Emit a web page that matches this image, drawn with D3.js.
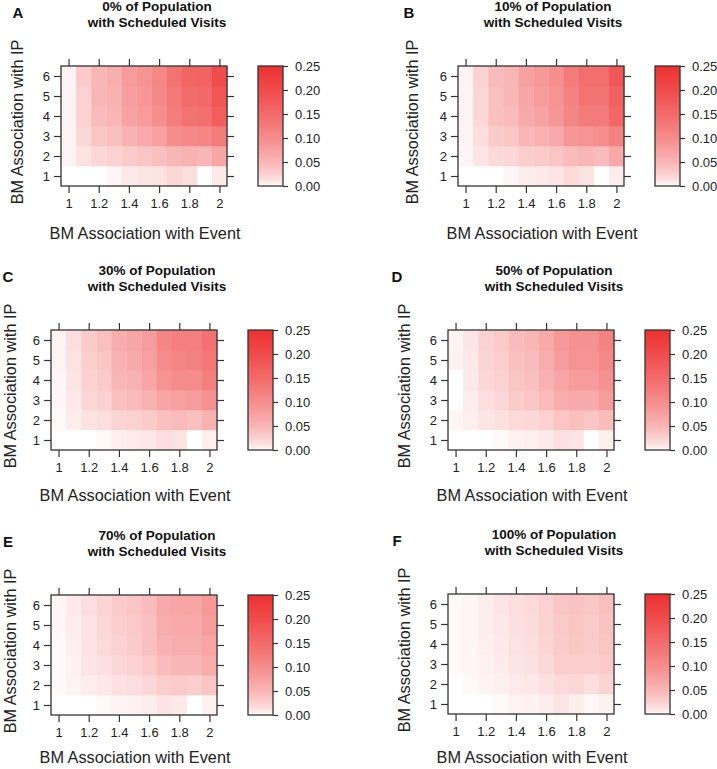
<!DOCTYPE html>
<html>
<head>
<meta charset="utf-8">
<script src="https://cdn.jsdelivr.net/npm/d3@7"></script>
<style>
  html, body { margin: 0; padding: 0; background: #fff; }
  svg { display: block; font-family: "Liberation Sans", Arial, Helvetica, sans-serif; }
</style>
</head>
<body>
<svg id="chart" width="717" height="769"></svg>
<script>
// ---------- data ----------
const xValues = [1.0, 1.1, 1.2, 1.3, 1.4, 1.5, 1.6, 1.7, 1.8, 1.9, 2.0];
const yValues = [1, 2, 3, 4, 5, 6];
const xTickValues = [1, 1.2, 1.4, 1.6, 1.8, 2];
const xTickLabels = ["1", "1.2", "1.4", "1.6", "1.8", "2"];
const yTickValues = [1, 2, 3, 4, 5, 6];
const colorTicks = [0, 0.05, 0.10, 0.15, 0.20, 0.25];
const colorTickLabels = ["0.00", "0.05", "0.10", "0.15", "0.20", "0.25"];
const panelLetters = ["A", "B", "C", "D", "E", "F"];
const panelTitles = ["0% of Population", "10% of Population", "30% of Population",
                     "50% of Population", "70% of Population", "100% of Population"];
const titleLine2 = "with Scheduled Visits";
const xAxisTitle = "BM Association with Event";
const yAxisTitle = "BM Association with IP";

// rows ordered y = 1 .. 6, columns x = 1.0 .. 2.0
const vals0 = [
  [0.000, 0.000, 0.000, 0.002, 0.008, 0.010, 0.012, 0.020, 0.015, 0.000, 0.008],
  [0.003, 0.012, 0.020, 0.025, 0.030, 0.035, 0.040, 0.050, 0.055, 0.050, 0.070],
  [0.003, 0.020, 0.035, 0.040, 0.055, 0.065, 0.075, 0.100, 0.105, 0.110, 0.125],
  [0.003, 0.025, 0.045, 0.050, 0.072, 0.082, 0.098, 0.122, 0.138, 0.142, 0.170],
  [0.003, 0.025, 0.050, 0.055, 0.078, 0.088, 0.105, 0.128, 0.148, 0.152, 0.185],
  [0.003, 0.030, 0.050, 0.058, 0.082, 0.092, 0.108, 0.138, 0.158, 0.162, 0.200]
];
const vals10 = [
  [0.000, 0.000, 0.000, 0.002, 0.006, 0.008, 0.010, 0.018, 0.012, 0.000, 0.006],
  [0.002, 0.010, 0.018, 0.020, 0.028, 0.030, 0.035, 0.045, 0.050, 0.045, 0.065],
  [0.003, 0.015, 0.030, 0.035, 0.050, 0.055, 0.065, 0.088, 0.092, 0.098, 0.115],
  [0.003, 0.020, 0.040, 0.045, 0.065, 0.072, 0.088, 0.110, 0.125, 0.125, 0.155],
  [0.003, 0.020, 0.040, 0.050, 0.070, 0.080, 0.092, 0.115, 0.135, 0.135, 0.165],
  [0.003, 0.025, 0.045, 0.050, 0.075, 0.085, 0.098, 0.125, 0.145, 0.145, 0.182]
];
const vals30 = [
  [0.000, 0.000, 0.000, 0.001, 0.005, 0.007, 0.009, 0.015, 0.012, 0.000, 0.005],
  [0.001, 0.006, 0.012, 0.015, 0.022, 0.025, 0.030, 0.040, 0.045, 0.040, 0.055],
  [0.002, 0.008, 0.020, 0.025, 0.040, 0.045, 0.055, 0.070, 0.075, 0.080, 0.095],
  [0.002, 0.010, 0.025, 0.030, 0.050, 0.055, 0.070, 0.090, 0.100, 0.100, 0.120],
  [0.003, 0.012, 0.028, 0.035, 0.055, 0.065, 0.075, 0.100, 0.110, 0.115, 0.130],
  [0.003, 0.015, 0.030, 0.040, 0.060, 0.070, 0.080, 0.110, 0.120, 0.120, 0.140]
];
const vals50 = [
  [0.000, 0.000, 0.000, 0.001, 0.004, 0.005, 0.008, 0.013, 0.010, 0.000, 0.005],
  [0.002, 0.005, 0.010, 0.013, 0.018, 0.020, 0.025, 0.035, 0.040, 0.035, 0.045],
  [0.000, 0.006, 0.015, 0.020, 0.030, 0.035, 0.045, 0.060, 0.065, 0.065, 0.080],
  [0.000, 0.008, 0.020, 0.025, 0.035, 0.040, 0.055, 0.070, 0.080, 0.080, 0.095],
  [0.004, 0.008, 0.022, 0.028, 0.040, 0.045, 0.060, 0.080, 0.090, 0.090, 0.105],
  [0.003, 0.010, 0.025, 0.030, 0.045, 0.050, 0.065, 0.085, 0.095, 0.095, 0.115]
];
const vals70 = [
  [0.000, 0.000, 0.000, 0.001, 0.003, 0.004, 0.006, 0.011, 0.008, 0.000, 0.004],
  [0.001, 0.003, 0.006, 0.009, 0.013, 0.015, 0.020, 0.028, 0.030, 0.028, 0.035],
  [0.001, 0.004, 0.010, 0.014, 0.020, 0.025, 0.032, 0.045, 0.050, 0.050, 0.060],
  [0.001, 0.005, 0.012, 0.018, 0.025, 0.030, 0.040, 0.055, 0.060, 0.060, 0.070],
  [0.002, 0.006, 0.012, 0.020, 0.028, 0.032, 0.040, 0.060, 0.065, 0.065, 0.080],
  [0.002, 0.008, 0.015, 0.022, 0.030, 0.035, 0.045, 0.065, 0.070, 0.070, 0.085]
];
const vals100 = [
  [0.000, 0.000, 0.000, 0.001, 0.003, 0.004, 0.006, 0.010, 0.006, 0.001, 0.004],
  [0.000, 0.001, 0.003, 0.005, 0.007, 0.009, 0.013, 0.018, 0.020, 0.015, 0.022],
  [0.001, 0.002, 0.004, 0.007, 0.010, 0.013, 0.019, 0.027, 0.028, 0.027, 0.030],
  [0.001, 0.002, 0.005, 0.008, 0.012, 0.015, 0.022, 0.030, 0.033, 0.030, 0.035],
  [0.001, 0.002, 0.006, 0.009, 0.014, 0.017, 0.024, 0.032, 0.035, 0.030, 0.037],
  [0.001, 0.002, 0.006, 0.010, 0.015, 0.018, 0.025, 0.035, 0.037, 0.033, 0.040]
];
const panelValues = [vals0, vals10, vals30, vals50, vals70, vals100];

// ---------- layout ----------
const frameW = 166, frameH = 120;
const panelPos = [
  { fx: 61,  fy: 66,  tx: 157, lx: 18,  xt: 53, yt: 38 },
  { fx: 458, fy: 66,  tx: 553, lx: 409, xt: 53, yt: 40 },
  { fx: 51,  fy: 330, tx: 157, lx: 8,   xt: 51, yt: 35 },
  { fx: 448, fy: 330, tx: 554, lx: 397, xt: 51, yt: 38 },
  { fx: 51,  fy: 595, tx: 157, lx: 8,   xt: 48, yt: 35 },
  { fx: 448, fy: 594, tx: 554, lx: 397, xt: 49, yt: 38 }
];
const ink = "#222";
const frameColor = "#333";

const svg = d3.select("#chart");
const color = d3.scalePow().exponent(0.65).domain([0, 0.25]).range(["#ffffff", "#ee3030"])
  .interpolate(d3.interpolateRgb).clamp(true);

// gradient for colour key
const defs = svg.append("defs");
const grad = defs.append("linearGradient").attr("id", "keygrad")
  .attr("x1", 0).attr("y1", 1).attr("x2", 0).attr("y2", 0);
d3.range(0, 1.0001, 0.025).forEach(t => {
  grad.append("stop").attr("offset", t).attr("stop-color", color(t * 0.25));
});

panelValues.forEach((vals, pi) => {
  const p = panelPos[pi];
  const g = svg.append("g");

  const x = d3.scaleLinear().domain([0.95, 2.05]).range([p.fx, p.fx + frameW]);
  const y = d3.scaleLinear().domain([0.5, 6.5]).range([p.fy + frameH, p.fy]);

  // cells
  const cells = [];
  vals.forEach((row, ri) => row.forEach((v, ci) => cells.push({ x: xValues[ci], y: yValues[ri], v })));
  g.append("g").selectAll("rect").data(cells).join("rect")
    .attr("x", d => x(d.x - 0.05))
    .attr("y", d => y(d.y + 0.5))
    .attr("width", d => x(d.x + 0.05) - x(d.x - 0.05) + 0.3)
    .attr("height", d => y(d.y - 0.5) - y(d.y + 0.5) + 0.3)
    .attr("fill", d => color(d.v));

  // axes
  const tickLen = 7;
  const axB = d3.axisBottom(x).tickValues(xTickValues).tickFormat((d, i) => xTickLabels[i]).tickSize(tickLen).tickPadding(6);
  const axT = d3.axisTop(x).tickValues(xTickValues).tickFormat("").tickSize(tickLen);
  const axL = d3.axisLeft(y).tickValues(yTickValues).tickFormat(d3.format("d")).tickSize(tickLen).tickPadding(4);
  const axR = d3.axisRight(y).tickValues(yTickValues).tickFormat("").tickSize(tickLen);

  function style(sel) {
    sel.select(".domain").remove();
    sel.selectAll(".tick line").attr("stroke", frameColor).attr("stroke-width", 1.2);
    sel.selectAll(".tick text").attr("fill", ink).style("font-size", "13px")
      .style("font-family", "'Liberation Sans', Arial, Helvetica, sans-serif");
  }
  g.append("g").attr("transform", `translate(0,${p.fy + frameH})`).call(axB).call(style);
  g.append("g").attr("transform", `translate(0,${p.fy})`).call(axT).call(style);
  g.append("g").attr("transform", `translate(${p.fx},0)`).call(axL).call(style);
  g.append("g").attr("transform", `translate(${p.fx + frameW},0)`).call(axR).call(style);

  // frame
  g.append("rect").attr("x", p.fx).attr("y", p.fy).attr("width", frameW).attr("height", frameH)
    .attr("fill", "none").attr("stroke", frameColor).attr("stroke-width", 1.3);

  // colour key
  const kx = p.fx + 197, kw = 25;
  const ky = d3.scaleLinear().domain([0, 0.25]).range([p.fy + frameH, p.fy]);
  g.append("rect").attr("x", kx).attr("y", p.fy).attr("width", kw).attr("height", frameH)
    .attr("fill", "url(#keygrad)");
  const axK = d3.axisRight(ky).tickValues(colorTicks).tickFormat((d, i) => colorTickLabels[i]).tickSize(5).tickPadding(7);
  g.append("g").attr("transform", `translate(${kx + kw},0)`).call(axK).call(style);
  g.append("rect").attr("x", kx).attr("y", p.fy).attr("width", kw).attr("height", frameH)
    .attr("fill", "none").attr("stroke", frameColor).attr("stroke-width", 1.3);

  // titles
  const tg = g.append("text").attr("text-anchor", "middle").attr("fill", "#111")
    .style("font-weight", "bold").style("font-size", "13.5px");
  tg.append("tspan").attr("x", p.tx).attr("y", p.fy - 55).text(panelTitles[pi]);
  tg.append("tspan").attr("x", p.tx).attr("y", p.fy - 39).text(titleLine2);

  // panel letter
  g.append("text").attr("x", p.lx).attr("y", p.fy - 48).attr("text-anchor", "middle")
    .attr("fill", "#111").style("font-weight", "bold").style("font-size", "15px").text(panelLetters[pi]);

  // axis titles
  g.append("text").attr("x", p.fx + frameW / 2 + 1).attr("y", p.fy + frameH + p.xt)
    .attr("text-anchor", "middle").attr("fill", ink).style("font-size", "16.3px").text(xAxisTitle);
  g.append("text").attr("transform", `translate(${p.fx - p.yt},${p.fy + frameH / 2 - 4}) rotate(-90)`)
    .attr("text-anchor", "middle").attr("fill", ink).style("font-size", "16.3px").text(yAxisTitle);
});
</script>
</body>
</html>
